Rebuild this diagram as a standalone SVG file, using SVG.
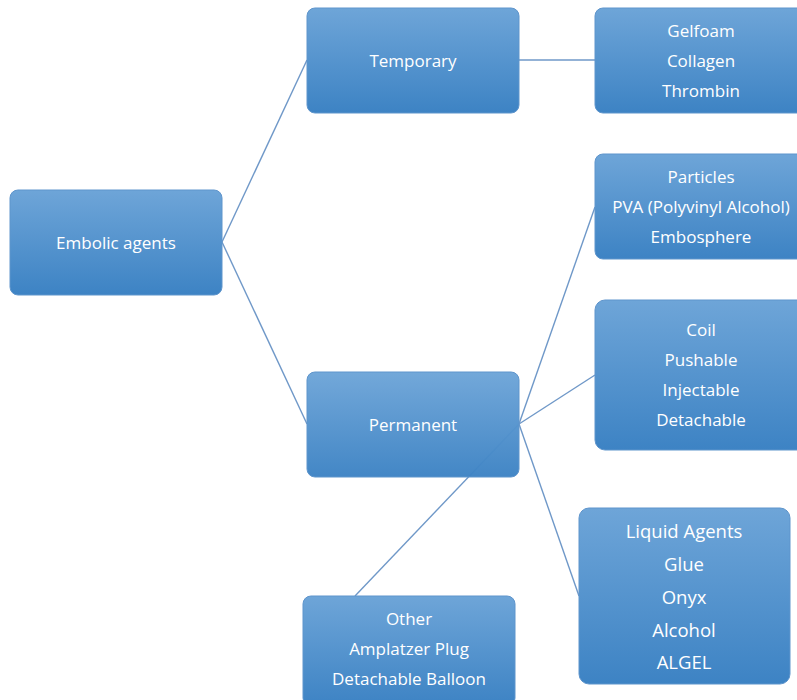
<svg xmlns="http://www.w3.org/2000/svg" width="797" height="700" viewBox="0 0 797 700">
<defs>
<linearGradient id="g" x1="0" y1="0" x2="0" y2="1">
<stop offset="0" stop-color="#6ea5d8"/>
<stop offset="1" stop-color="#3d83c4"/>
</linearGradient>
<style>
.box{fill:url(#g);stroke:#5f95cc;stroke-width:1}
.t{fill:#ffffff;font-family:"Open Sans","Liberation Sans",sans-serif;font-size:17px;text-anchor:middle;dominant-baseline:central}
.tl{font-size:18.5px}
.c{stroke:#6f98c8;stroke-width:1.4;fill:none}
</style>
</defs>
<rect width="797" height="700" fill="#ffffff"/>
<g id="connectors">
<line class="c" x1="222" y1="242" x2="307" y2="60"/>
<line class="c" x1="222" y1="242" x2="307" y2="424"/>
<line class="c" x1="519" y1="60" x2="595" y2="60"/>
<line class="c" x1="519" y1="424" x2="595" y2="207"/>
<line class="c" x1="519" y1="424" x2="595" y2="375"/>
<line class="c" x1="519" y1="424" x2="579" y2="596"/>
<line class="c" x1="355" y1="596" x2="519" y2="424"/>
</g>
<g id="embolic">
<rect class="box" x="10" y="190" width="212" height="105" rx="8"/>
<text class="t" x="116" y="242">Embolic agents</text>
</g>
<g id="temporary">
<rect class="box" x="307" y="8" width="212" height="105" rx="8"/>
<text class="t" x="413" y="60">Temporary</text>
</g>
<g id="temporary-agents">
<rect class="box" x="595" y="8" width="214" height="105" rx="8"/>
<text class="t" x="701" y="30">Gelfoam</text>
<text class="t" x="701" y="60">Collagen</text>
<text class="t" x="701" y="90">Thrombin</text>
</g>
<g id="permanent">
<rect class="box" x="307" y="372" width="212" height="105" rx="8" fill-opacity="0.97"/>
<text class="t" x="413" y="424">Permanent</text>
</g>
<g id="particles">
<rect class="box" x="595" y="154" width="214" height="105" rx="8"/>
<text class="t" x="701" y="176">Particles</text>
<text class="t" x="701" y="206">PVA (Polyvinyl Alcohol)</text>
<text class="t" x="701" y="236">Embosphere</text>
</g>
<g id="coil">
<rect class="box" x="595" y="300" width="214" height="150" rx="10"/>
<text class="t" x="701" y="329">Coil</text>
<text class="t" x="701" y="359">Pushable</text>
<text class="t" x="701" y="389">Injectable</text>
<text class="t" x="701" y="419">Detachable</text>
</g>
<g id="liquid">
<rect class="box" x="579" y="508" width="211" height="176" rx="10"/>
<text class="t tl" x="684" y="530">Liquid Agents</text>
<text class="t tl" x="684" y="563">Glue</text>
<text class="t tl" x="684" y="596">Onyx</text>
<text class="t tl" x="684" y="629">Alcohol</text>
<text class="t tl" x="684" y="661">ALGEL</text>
</g>
<g id="other">
<rect class="box" x="303" y="596" width="212" height="110" rx="8"/>
<text class="t" x="409" y="618">Other</text>
<text class="t" x="409" y="648">Amplatzer Plug</text>
<text class="t" x="409" y="678">Detachable Balloon</text>
</g>
</svg>
